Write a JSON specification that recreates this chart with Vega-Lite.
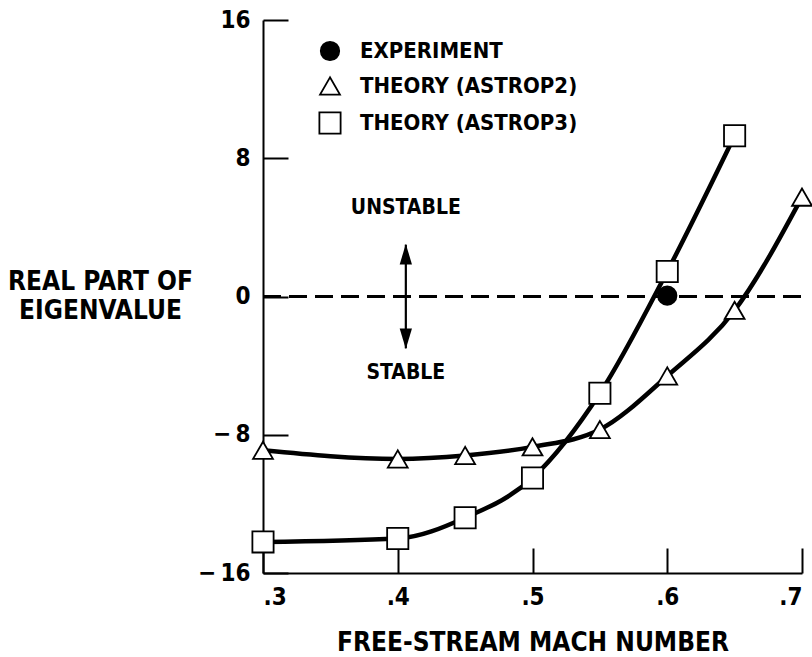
{
  "$schema": "https://vega.github.io/schema/vega-lite/v6.json",
  "width": 539,
  "height": 553,
  "autosize": "none",
  "padding": {"left": 263, "top": 20, "right": 10, "bottom": 84},
  "background": "white",
  "config": {
    "view": {"stroke": null},
    "font": "Liberation Sans Narrow, DejaVu Sans Condensed, Roboto Condensed, Arial Narrow, sans-serif",
    "axis": {"labelFontWeight": "bold", "titleFontWeight": "bold", "labelColor": "black", "titleColor": "black", "domainColor": "black", "tickColor": "black", "grid": false},
    "legend": {"title": null, "orient": "none", "legendX": 55, "legendY": 20, "padding": 0, "labelFontSize": 22, "labelFontWeight": "bold", "labelColor": "black", "labelLimit": 400, "labelOffset": 18, "rowPadding": 9, "symbolStrokeWidth": 1.8}
  },
  "datasets": {
    "pts": [
      {"mach": 0.3, "value": -8.9, "series": "THEORY (ASTROP2)"},
      {"mach": 0.4, "value": -9.4, "series": "THEORY (ASTROP2)"},
      {"mach": 0.45, "value": -9.2, "series": "THEORY (ASTROP2)"},
      {"mach": 0.5, "value": -8.7, "series": "THEORY (ASTROP2)"},
      {"mach": 0.55, "value": -7.7, "series": "THEORY (ASTROP2)"},
      {"mach": 0.6, "value": -4.6, "series": "THEORY (ASTROP2)"},
      {"mach": 0.65, "value": -0.8, "series": "THEORY (ASTROP2)"},
      {"mach": 0.7, "value": 5.75, "series": "THEORY (ASTROP2)"},
      {"mach": 0.3, "value": -14.2, "series": "THEORY (ASTROP3)"},
      {"mach": 0.4, "value": -14.0, "series": "THEORY (ASTROP3)"},
      {"mach": 0.45, "value": -12.8, "series": "THEORY (ASTROP3)"},
      {"mach": 0.5, "value": -10.5, "series": "THEORY (ASTROP3)"},
      {"mach": 0.55, "value": -5.6, "series": "THEORY (ASTROP3)"},
      {"mach": 0.6, "value": 1.45, "series": "THEORY (ASTROP3)"},
      {"mach": 0.65, "value": 9.3, "series": "THEORY (ASTROP3)"},
      {"mach": 0.6, "value": 0.05, "series": "EXPERIMENT"}
    ],
    "arrow": [
      {"mach": 0.406, "top": 3.0, "bottom": -3.0}
    ],
    "heads": [
      {"mach": 0.406, "value": 2.45, "dir": "up"},
      {"mach": 0.406, "value": -2.45, "dir": "down"}
    ],
    "labels": [
      {"mach": 0.406, "value": 5.1, "text": "UNSTABLE"},
      {"mach": 0.406, "value": -4.45, "text": "STABLE"}
    ]
  },
  "layer": [
    {
      "data": {"name": "pts"},
      "mark": {"type": "rule", "strokeDash": [18, 8], "strokeWidth": 2, "color": "black"},
      "encoding": {
        "x": {"datum": 0.3, "type": "quantitative", "scale": {"domain": [0.3, 0.7], "nice": false, "zero": false},
          "axis": {"values": [0.3, 0.4, 0.5, 0.6, 0.7], "labelExpr": "replace(format(datum.value, '.1f'), '0.', '.')", "tickSize": -25, "tickWidth": 2, "domainWidth": 2, "labelFontSize": 24, "labelPadding": 37, "title": "FREE-STREAM MACH NUMBER", "titleFontSize": 26, "titlePadding": 20}},
        "x2": {"datum": 0.7},
        "y": {"datum": 0, "type": "quantitative", "scale": {"domain": [-16, 16], "nice": false, "zero": false},
          "axis": {"values": [-16, -8, 0, 8, 16], "labelExpr": "datum.value < 0 ? '\u2212\u2009' + abs(datum.value) : datum.label", "tickSize": -25, "tickWidth": 2, "domainWidth": 2, "labelFontSize": 24, "labelPadding": 38,
            "title": ["REAL PART OF", "EIGENVALUE"], "titleFontSize": 26, "titleAngle": 0, "titleAlign": "center", "titleBaseline": "middle", "titleLineHeight": 29, "titleX": -163, "titleY": 261}}
      }
    },
    {
      "data": {"name": "pts"},
      "transform": [{"filter": "datum.series != 'EXPERIMENT'"}],
      "mark": {"type": "line", "interpolate": "monotone", "strokeWidth": 4.5, "color": "black"},
      "encoding": {
        "x": {"field": "mach", "type": "quantitative"},
        "y": {"field": "value", "type": "quantitative"},
        "detail": {"field": "series"}
      }
    },
    {
      "data": {"name": "arrow"},
      "mark": {"type": "rule", "strokeWidth": 2.2, "color": "black"},
      "encoding": {
        "x": {"field": "mach", "type": "quantitative"},
        "y": {"field": "top", "type": "quantitative"},
        "y2": {"field": "bottom"}
      }
    },
    {
      "data": {"name": "heads"},
      "transform": [{"filter": "datum.dir == 'up'"}],
      "mark": {"type": "point", "shape": "M0,-1L0.6,1L-0.6,1Z", "size": 420, "filled": true, "color": "black", "opacity": 1, "strokeWidth": 0},
      "encoding": {
        "x": {"field": "mach", "type": "quantitative"},
        "y": {"field": "value", "type": "quantitative"}
      }
    },
    {
      "data": {"name": "heads"},
      "transform": [{"filter": "datum.dir == 'down'"}],
      "mark": {"type": "point", "shape": "M0,1L0.6,-1L-0.6,-1Z", "size": 420, "filled": true, "color": "black", "opacity": 1, "strokeWidth": 0},
      "encoding": {
        "x": {"field": "mach", "type": "quantitative"},
        "y": {"field": "value", "type": "quantitative"}
      }
    },
    {
      "data": {"name": "labels"},
      "mark": {"type": "text", "fontSize": 21, "fontWeight": "bold", "color": "black", "align": "center", "baseline": "middle"},
      "encoding": {
        "x": {"field": "mach", "type": "quantitative"},
        "y": {"field": "value", "type": "quantitative"},
        "text": {"field": "text"}
      }
    },
    {
      "data": {"name": "pts"},
      "mark": {"type": "point", "filled": true, "strokeWidth": 1.8, "opacity": 1},
      "encoding": {
        "x": {"field": "mach", "type": "quantitative"},
        "y": {"field": "value", "type": "quantitative"},
        "stroke": {"field": "series", "type": "nominal",
          "scale": {"domain": ["EXPERIMENT", "THEORY (ASTROP2)", "THEORY (ASTROP3)"], "range": ["black", "black", "black"]}},
        "size": {"field": "series", "type": "nominal",
          "scale": {"domain": ["EXPERIMENT", "THEORY (ASTROP2)", "THEORY (ASTROP3)"], "range": [340, 450, 350]}},
        "shape": {"field": "series", "type": "nominal",
          "scale": {"domain": ["EXPERIMENT", "THEORY (ASTROP2)", "THEORY (ASTROP3)"], "range": ["circle", "triangle-up", "square"]}},
        "fill": {"field": "series", "type": "nominal",
          "scale": {"domain": ["EXPERIMENT", "THEORY (ASTROP2)", "THEORY (ASTROP3)"], "range": ["black", "white", "white"]}}
      }
    }
  ]
}
